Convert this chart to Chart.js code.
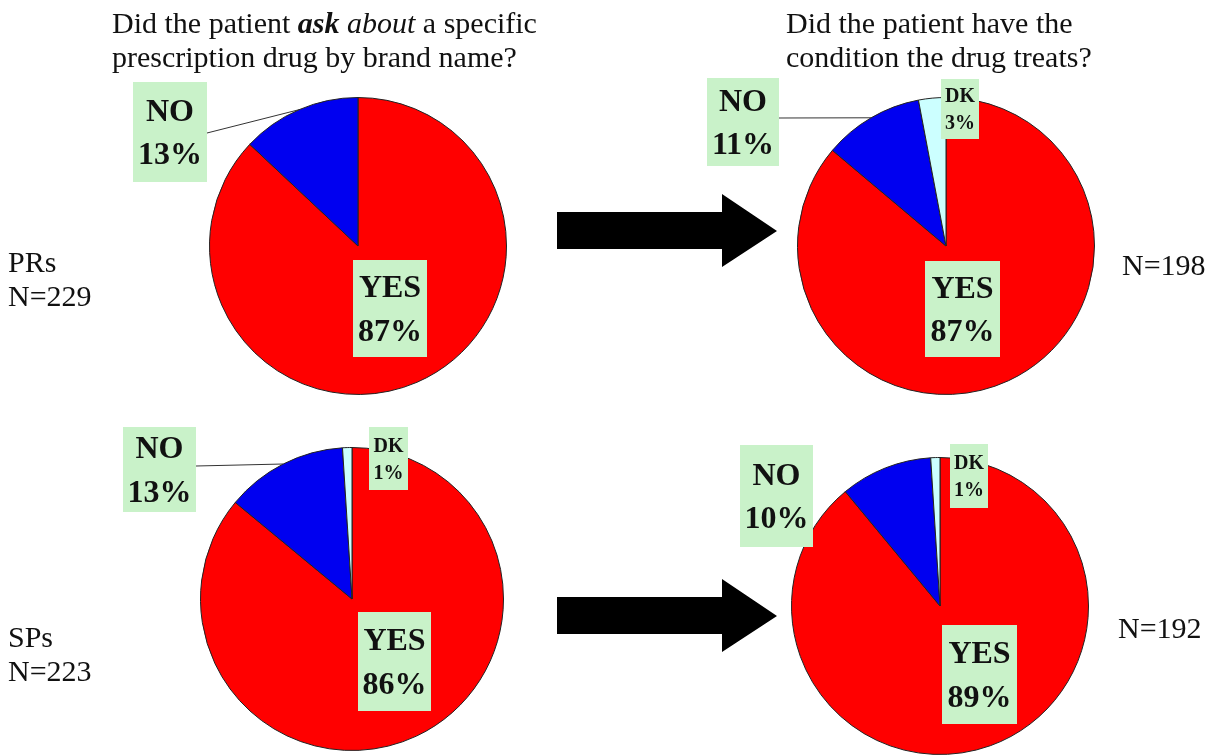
<!DOCTYPE html>
<html>
<head>
<meta charset="utf-8">
<script src="https://cdn.jsdelivr.net/npm/chart.js@4"></script>
<style>
    body { margin: 0; background: #fff; }
    #page { position: relative; width: 1217px; height: 756px; overflow: hidden; background: #fff; }
    #page canvas { position: absolute; left: 0; top: 0; }
    .txt { position: absolute; font-family: "Liberation Serif", "Times New Roman", serif; font-size: 30px; line-height: 34px; color: #111; white-space: nowrap; }
    .arrow { position: absolute; width: 220px; height: 73px; background: #000;
        clip-path: polygon(0 18px, 165px 18px, 165px 0, 220px 37px, 165px 73px, 165px 55px, 0 55px); }
</style>
</head>
<body>
<div id="page">
    <canvas id="pie1" width="1217" height="756"></canvas>
    <canvas id="pie2" width="1217" height="756"></canvas>
    <canvas id="pie3" width="1217" height="756"></canvas>
    <canvas id="pie4" width="1217" height="756"></canvas>

    <div class="txt" id="q1" style="left:112px; top:6px;"></div>
    <div class="txt" id="q2" style="left:786px; top:6px;"></div>
    <div class="txt" id="g1" style="left:8px; top:245px;"></div>
    <div class="txt" id="g2" style="left:8px; top:620px;"></div>
    <div class="txt" id="n1" style="left:1122px; top:248px;"></div>
    <div class="txt" id="n2" style="left:1118px; top:611px;"></div>

    <div class="arrow" style="left:557px; top:194px;"></div>
    <div class="arrow" style="left:557px; top:579px;"></div>
</div>
<script>
// answers, in the order the slices go clockwise from 12 o'clock
const answerLabels = ['YES', 'NO', 'DK'];
const answerColors = ['#ff0000', '#0000f0', '#ccffff'];

// percent per answer
const prAsked = [87, 13];
const prCondition = [87, 11, 3];
const spAsked = [86, 13, 1];
const spCondition = [89, 10, 1];

const groupNames = ['PRs', 'SPs'];
const groupN = [229, 223];
const conditionN = [198, 192];

const questionAsked = ['Did the patient <b><i>ask</i></b> <i>about</i> a specific', 'prescription drug by brand name?'];
const questionCondition = ['Did the patient have the', 'condition the drug treats?'];

document.getElementById('q1').innerHTML = questionAsked.join('<br>');
document.getElementById('q2').innerHTML = questionCondition.join('<br>');
document.getElementById('g1').innerHTML = `${groupNames[0]}<br>N=${groupN[0]}`;
document.getElementById('g2').innerHTML = `${groupNames[1]}<br>N=${groupN[1]}`;
document.getElementById('n1').textContent = `N=${conditionN[0]}`;
document.getElementById('n2').textContent = `N=${conditionN[1]}`;

const W = 1217, H = 756;

// green label boxes, drawn on top of the pie; leader goes to the middle of the slice edge
const labelBoxes = {
    afterDatasetsDraw(chart) {
        const ctx = chart.ctx;
        const meta = chart.getDatasetMeta(0);
        const boxes = chart.options.plugins.labelBoxes.boxes;
        const values = chart.data.datasets[0].data;
        ctx.save();
        boxes.forEach(b => {
            const i = b.index;
            if (b.leader) {
                const arc = meta.data[i];
                const mid = (arc.startAngle + arc.endAngle) / 2;
                ctx.beginPath();
                ctx.moveTo(b.leader[0], b.leader[1]);
                ctx.lineTo(arc.x + Math.cos(mid) * arc.outerRadius, arc.y + Math.sin(mid) * arc.outerRadius);
                ctx.strokeStyle = '#333';
                ctx.lineWidth = 1;
                ctx.stroke();
            }
            const [x, y, w, h] = b.rect;
            ctx.fillStyle = '#c9f2c9';
            ctx.fillRect(x, y, w, h);
            const size = b.size;
            const lh = size * 1.35;
            const cap = size * 0.66;
            const cx = x + w / 2, cy = y + h / 2;
            ctx.fillStyle = '#111';
            ctx.font = `bold ${size}px "Liberation Serif", "Times New Roman", serif`;
            ctx.textAlign = 'center';
            ctx.textBaseline = 'alphabetic';
            ctx.fillText(chart.data.labels[i], cx, cy - lh / 2 + cap / 2);
            ctx.fillText(values[i] + '%', cx, cy + lh / 2 + cap / 2);
        });
        ctx.restore();
    }
};

function makePie(id, values, center, boxes) {
    const [cx, cy, r] = center;
    return new Chart(document.getElementById(id), {
        type: 'pie',
        data: {
            labels: answerLabels.slice(0, values.length),
            datasets: [{
                data: values,
                backgroundColor: answerColors.slice(0, values.length),
                borderColor: '#222',
                borderWidth: 1
            }]
        },
        options: {
            responsive: false,
            animation: false,
            devicePixelRatio: 1,
            events: [],
            layout: {
                padding: { left: cx - r, top: cy - r, right: W - cx - r, bottom: H - cy - r }
            },
            plugins: {
                legend: { display: false },
                tooltip: { enabled: false },
                labelBoxes: { boxes: boxes }
            }
        },
        plugins: [labelBoxes]
    });
}

makePie('pie1', prAsked, [358, 246, 149], [
    { index: 1, rect: [133, 82, 74, 100], size: 32, leader: [207, 133] },
    { index: 0, rect: [353, 260, 74, 97], size: 32 }
]);
makePie('pie2', prCondition, [946, 246, 149], [
    { index: 1, rect: [707, 78, 72, 88], size: 32, leader: [779, 118] },
    { index: 2, rect: [941, 79, 38, 60], size: 20 },
    { index: 0, rect: [925, 261, 75, 96], size: 32 }
]);
makePie('pie3', spAsked, [352, 599, 152], [
    { index: 1, rect: [123, 427, 73, 85], size: 32, leader: [196, 466] },
    { index: 2, rect: [369, 427, 39, 63], size: 20 },
    { index: 0, rect: [358, 612, 73, 99], size: 32 }
]);
makePie('pie4', spCondition, [940, 606, 149], [
    { index: 1, rect: [740, 445, 73, 102], size: 32 },
    { index: 2, rect: [950, 444, 38, 64], size: 20 },
    { index: 0, rect: [942, 625, 75, 99], size: 32 }
]);
</script>
</body>
</html>
